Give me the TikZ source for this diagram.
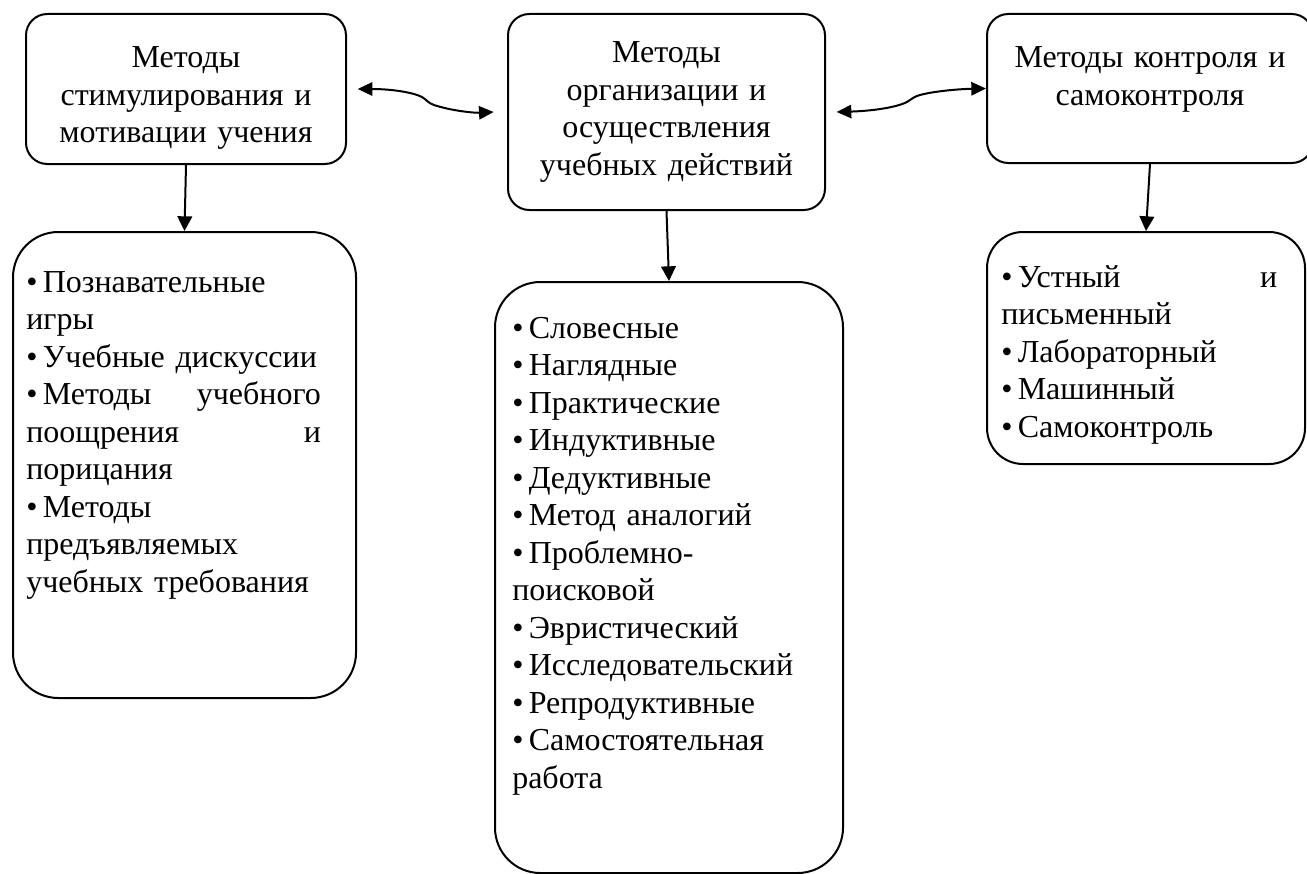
\documentclass[tikz,border=0pt]{standalone}
\usepackage{fontspec}
\setmainfont{Liberation Serif}
\usetikzlibrary{arrows.meta}

\newcommand{\blt}{\textbullet\hspace{4pt}}

\tikzset{
  box/.style={draw,line width=1.5pt,rounded corners=16pt},
  bigbox/.style={draw,line width=1.5pt,rounded corners=34pt},
  txt/.style={inner sep=0pt,font=\fontsize{24}{28.125}\selectfont},
  arr/.style={line width=1.5pt,-{Triangle[length=11pt,width=11pt]}},
  dbl/.style={line width=1.5pt,{Triangle[length=11pt,width=10pt]}-{Triangle[length=11pt,width=10pt]}}
}

\begin{document}
\begin{tikzpicture}[x=0.75pt,y=-0.75pt]
  \useasboundingbox (0,0) rectangle (1307,874);

  \node[box,minimum width=240pt,minimum height=112.5pt] (stim) at (186,89) {};
  \node[box,minimum width=237.75pt,minimum height=147pt] (org) at (666.5,112) {};
  \node[box,minimum width=244.5pt,minimum height=111.75pt] (ctrl) at (1150,88.5) {};

  \node[bigbox,minimum width=257.25pt,minimum height=349.5pt] (stimlist) at (184.5,465) {};
  \node[bigbox,minimum width=261pt,minimum height=443.25pt] (orglist) at (669,577.5) {};
  \node[bigbox,rounded corners=27pt,minimum width=238.5pt,minimum height=174pt] (ctrllist) at (1146,348) {};

  \node[txt,text width=235pt,align=center,anchor=base] (stimtxt) at (186,68)
    {Методы\\ стимулирования и\\ мотивации учения};
  \node[txt,text width=235pt,align=center,anchor=base] (orgtxt) at (666.5,63)
    {Методы\\ организации и\\ осуществления\\ учебных действий};
  \node[txt,text width=240pt,align=center,anchor=base] (ctrltxt) at (1150,68)
    {Методы контроля и\\ самоконтроля};

  \node[txt,text width=221pt,align=left,anchor=base west] (stimitems) at (26,292)
    {\blt Познавательные\\ игры\\ \blt Учебные дискуссии\\
     \blt Методы\hfill учебного\\ поощрения\hfill и\\ порицания\\
     \blt Методы\\ предъявляемых\\ учебных требования};
  \node[txt,text width=240pt,align=left,anchor=base west] (orgitems) at (512,338)
    {\blt Словесные\\ \blt Наглядные\\ \blt Практические\\ \blt Индуктивные\\
     \blt Дедуктивные\\ \blt Метод аналогий\\ \blt Проблемно-\\ поисковой\\
     \blt Эвристический\\ \blt Исследовательский\\ \blt Репродуктивные\\
     \blt Самостоятельная\\ работа};
  \node[txt,text width=207pt,align=left,anchor=base west] (ctrlitems) at (1001,287)
    {\blt Устный\hfill и\\ письменный\\ \blt Лабораторный\\ \blt Машинный\\
     \blt Самоконтроль};

  \draw[arr] (stim.south) -- (stimlist.north);
  \draw[arr] (org.south) -- (orglist.north);
  \draw[arr] (ctrl.south) -- (ctrllist.north);

  \draw[dbl] ([xshift=8pt]stim.east) .. controls (390,89) and (412,92) .. (422,97)
    .. controls (427,100) and (428,103) .. (434,105)
    .. controls (452,111) and (475,113) .. ([xshift=-10pt]org.west);
  \draw[dbl] ([xshift=8pt]org.east) .. controls (870,111) and (895,108) .. (907,102)
    .. controls (912,99) and (913,97) .. (920,95)
    .. controls (935,91) and (960,89) .. (ctrl.west);
\end{tikzpicture}
\end{document}
